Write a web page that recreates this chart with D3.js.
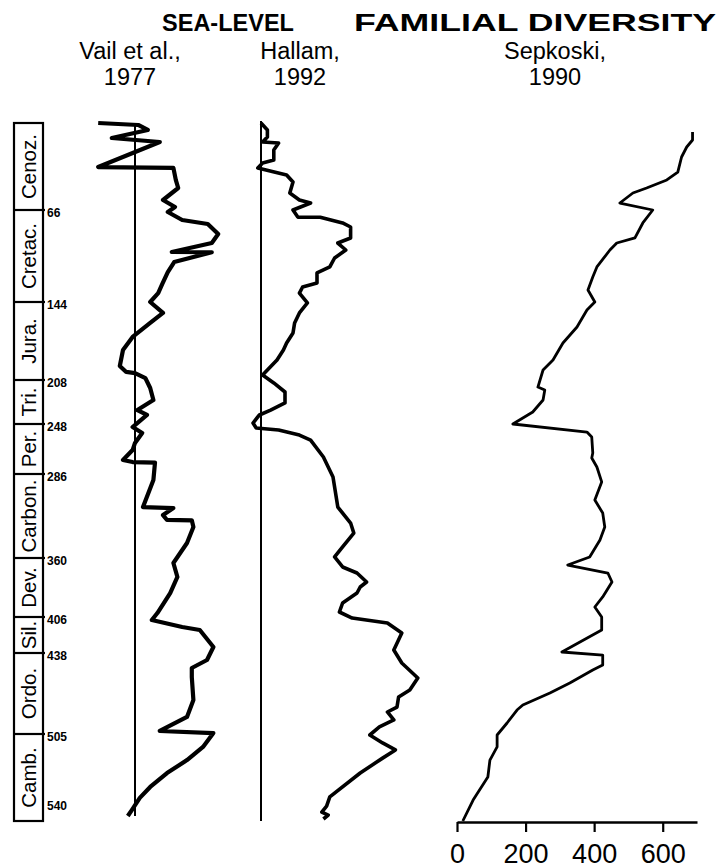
<!DOCTYPE html>
<html lang="en">
<head>
  <meta charset="UTF-8">
  <title>Sea-level and familial diversity</title>
  <script src="https://d3js.org/d3.v7.min.js"></script>
  <style>
    body { margin: 0; background: #fff; }
    svg { display: block; font-family: "Liberation Sans", Arial, sans-serif; }
  </style>
</head>
<body>
  <div id="chart"></div>
  <script>
    // Geological periods (base age in Ma)
    const periods = ['Cenoz.', 'Cretac.', 'Jura.', 'Tri.', 'Per.', 'Carbon.', 'Dev.', 'Sil.', 'Ordo.', 'Camb.'];
    const boundaries = [0, 66, 144, 208, 248, 286, 360, 406, 438, 505, 540];
    const boundaryLabels = ['66', '144', '208', '248', '286', '360', '406', '438', '505', '540'];

    // Vail et al., 1977 : [age Ma, relative sea level]
    const vail = [
      [0, -46], [1.5, 4], [5.3, 16], [11.4, -29], [14.4, 31], [33.4, -46], [34.1, 48],
      [43.2, 51], [49.3, 54], [58.4, 35], [63.7, 50], [67.7, 41], [74.5, 59], [77.9, 91],
      [86.3, 104], [94, 96], [101.6, 46], [101.8, 96], [110.1, 49], [118.6, 41], [128.8, 34],
      [136.4, 29], [144, 19], [153, 35], [161.2, 19], [172.7, -3], [183.4, -15], [196.5, -19],
      [201.4, -11], [202.3, 0], [206.4, 13], [215.3, 19], [226.2, 23], [235.3, 3], [239.8, 15],
      [250.3, -3], [254.8, 9], [262.4, 0], [267.8, -3], [275.4, -15], [276.9, -3], [277.3, 25],
      [291.3, 23], [315.1, 10], [316, 48], [322.2, 35], [326.5, 40], [326.8, 71], [332.7, 73],
      [346.8, 65], [363.9, 48], [374.8, 53], [387.3, 44], [402.9, 28], [408.7, 21], [414.9, 59],
      [417.6, 81], [426.4, 91], [432.7, 98], [443.8, 90], [450.4, 71], [457.9, 71], [476.9, 73],
      [490.9, 65], [502.5, 31], [504.2, 98], [510.2, 85], [515.5, 65], [520.7, 40], [526.3, 19],
      [530.7, 6], [535.6, -4], [538, -9]
    ];

    // Hallam, 1992 : [age Ma, relative sea level]
    const hallam = [
      [0, 0], [5.3, 4], [10.6, 4], [14.4, 1], [15.2, 11], [20.5, 8], [28.1, 8], [30.3, 1],
      [34.1, -2], [39.4, 16], [44.8, 20], [53.1, 18], [58.4, 24], [60.7, 31], [66, 20], [72, 23],
      [72.1, 37], [77, 51], [80.4, 56], [89.7, 56], [94, 48], [99.9, 53], [106.7, 46], [114.3, 43],
      [119.4, 35], [127.9, 35], [131.3, 26], [136.4, 24], [144.8, 29], [153, 24], [161.2, 21],
      [169.4, 20], [177.6, 16], [183.4, 14], [191.6, 10], [199.8, 4], [203.9, 1], [210.7, 8],
      [218.9, 15], [228.9, 15], [235.3, 6], [239.8, -1], [247.1, -5], [251, -3], [252.6, 11],
      [256.4, 24], [260.2, 31], [273.1, 39], [288.6, 45], [315.1, 48], [329.2, 56], [338, 58],
      [350.3, 51], [359.1, 46], [367, 51], [371.7, 60], [378.7, 66], [382.6, 62], [387.3, 60],
      [395.1, 51], [402.1, 49], [406.9, 57], [411.3, 79], [420.2, 88], [435.3, 83], [446.3, 88],
      [458.7, 98], [468.6, 93], [474.4, 86], [482.7, 85], [486.8, 79], [493.4, 83], [499.2, 74],
      [505.4, 68], [508.6, 76], [511.4, 84], [514.7, 76], [520.7, 62], [530.3, 43], [534, 41],
      [536.4, 38], [537.6, 42], [539.2, 39]
    ];

    // Sepkoski, 1990 : [age Ma, number of families]
    const sepkoski = [
      [6.8, 687], [12.9, 687], [18.2, 670], [25.8, 655], [37.2, 644], [43.2, 612], [49.3, 553],
      [53.1, 513], [60.7, 475], [66, 571], [77, 542], [89.7, 519], [94, 466], [99.9, 446],
      [114.3, 408], [122.8, 396], [133.8, 382], [144, 402], [150.6, 379], [164.5, 350],
      [177.6, 309], [191.6, 280], [199.8, 251], [214.4, 236], [217.1, 256], [226.2, 251],
      [237.1, 221], [248, 163], [254.1, 379], [257.9, 393], [270, 396], [273.8, 393],
      [280.7, 408], [293, 422], [308.9, 402], [320.4, 425], [332.7, 431], [344.2, 417],
      [359.1, 387], [365.5, 323], [371.7, 440], [378.7, 452], [390.4, 425], [398.2, 402],
      [406, 422], [417.6, 422], [437.1, 306], [439.7, 425], [447.9, 425], [452.1, 396],
      [462.8, 329], [471.1, 271], [481, 192], [485.2, 175], [495.9, 146], [505.4, 117],
      [510.2, 117], [515.5, 96], [522.3, 90], [531.6, 47], [540, 17]
    ];
    const familyTicks = [0, 200, 400, 600];

    const width = 727, height = 868;
    const svg = d3.select('#chart').append('svg')
      .attr('width', width)
      .attr('height', height);

    // the time column is not drawn to a uniform scale, so map each period base
    const y = d3.scaleLinear()
      .domain(boundaries)
      .range([123, 210, 302, 380, 424, 474, 558, 617, 653, 734, 821]);

    const xVail = d3.scaleLinear().domain([0, 100]).range([135, 215]);
    const xHallam = d3.scaleLinear().domain([0, 100]).range([261, 421]);
    const xSep = d3.scaleLinear().domain([0, 700]).range([457, 697]);

    // period column
    const col = svg.append('g');
    col.append('rect')
      .attr('x', 14).attr('y', y(0))
      .attr('width', 29).attr('height', y(540) - y(0))
      .attr('fill', 'none').attr('stroke', '#000').attr('stroke-width', 2.2);

    col.selectAll('line.bound')
      .data(boundaries.slice(1, -1))
      .enter().append('line')
      .attr('class', 'bound')
      .attr('x1', 14).attr('x2', 45)
      .attr('y1', d => y(d)).attr('y2', d => y(d))
      .attr('stroke', '#000').attr('stroke-width', 2.2);

    col.selectAll('text.period')
      .data(periods)
      .enter().append('text')
      .attr('class', 'period')
      .attr('transform', (d, i) => `translate(36,${(y(boundaries[i]) + y(boundaries[i + 1])) / 2}) rotate(-90)`)
      .attr('text-anchor', 'middle')
      .attr('font-size', 20.5)
      .text(d => d);

    col.selectAll('text.age')
      .data(boundaryLabels)
      .enter().append('text')
      .attr('class', 'age')
      .attr('x', 47)
      .attr('y', d => Math.min(y(+d) + 3, y(540) - 15))
      .attr('dy', '0.35em')
      .attr('font-size', 12)
      .attr('font-weight', 'bold')
      .text(d => d);

    // baselines of the sea-level curves
    svg.append('line')
      .attr('x1', xVail(0)).attr('x2', xVail(0))
      .attr('y1', y(1)).attr('y2', y(538))
      .attr('stroke', '#000').attr('stroke-width', 2);
    svg.append('line')
      .attr('x1', xHallam(0)).attr('x2', xHallam(0))
      .attr('y1', y(0) - 2).attr('y2', y(540))
      .attr('stroke', '#000').attr('stroke-width', 2);

    const line = xs => d3.line().x(d => xs(d[1])).y(d => y(d[0]));

    svg.append('path').datum(vail)
      .attr('d', line(xVail))
      .attr('fill', 'none').attr('stroke', '#000')
      .attr('stroke-width', 4.2).attr('stroke-linejoin', 'round');

    svg.append('path').datum(hallam)
      .attr('d', line(xHallam))
      .attr('fill', 'none').attr('stroke', '#000')
      .attr('stroke-width', 3.6).attr('stroke-linejoin', 'round');

    svg.append('path').datum(sepkoski)
      .attr('d', line(xSep))
      .attr('fill', 'none').attr('stroke', '#000')
      .attr('stroke-width', 2.8).attr('stroke-linejoin', 'round');

    // families axis
    const ax = svg.append('g')
      .attr('transform', `translate(0,${y(540) + 1})`)
      .call(d3.axisBottom(xSep).tickValues(familyTicks).tickSize(10).tickSizeOuter(0).tickPadding(12));
    ax.select('.domain').attr('stroke-width', 2.5);
    ax.selectAll('.tick line').attr('stroke-width', 2.2);
    ax.selectAll('.tick text')
      .attr('font-size', 27)
      .attr('font-family', '"Liberation Sans", Arial, sans-serif')
      .attr('fill', '#000');

    // headings
    const heads = [
      { t: 'SEA-LEVEL', x: 228, y: 31, bold: true },
      { t: 'Vail et al.,', x: 130, y: 59 },
      { t: '1977', x: 130, y: 85 },
      { t: 'Hallam,', x: 300, y: 59 },
      { t: '1992', x: 300, y: 85 },
      { t: 'FAMILIAL DIVERSITY', x: 535, y: 31, bold: true, len: 362 },
      { t: 'Sepkoski,', x: 555, y: 59 },
      { t: '1990', x: 555, y: 85 }
    ];
    const headText = svg.selectAll('text.head')
      .data(heads)
      .enter().append('text')
      .attr('class', 'head')
      .attr('x', d => d.x).attr('y', d => d.y)
      .attr('text-anchor', 'middle')
      .attr('font-size', 23.5)
      .attr('font-weight', d => d.bold ? 'bold' : 'normal')
      .text(d => d.t);
    headText.filter(d => d.len)
      .attr('textLength', d => d.len)
      .attr('lengthAdjust', 'spacingAndGlyphs');
  </script>
</body>
</html>
